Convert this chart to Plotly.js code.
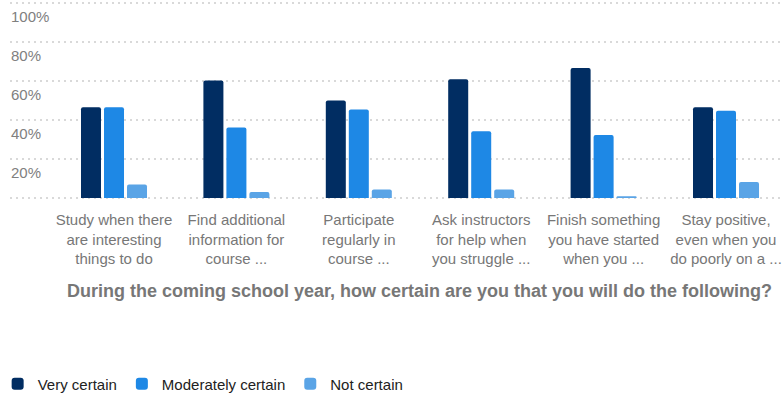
<!DOCTYPE html>
<html>
<head>
<meta charset="utf-8">
<script src="https://cdn.plot.ly/plotly-3.0.1.min.js"></script>
<style>
html,body{margin:0;padding:0;background:#fff;}
#chart{width:782px;height:398px;}
</style>
</head>
<body>
<div id="chart"></div>
<script>
const categories = [
  "Study when there<br>are interesting<br>things to do",
  "Find additional<br>information for<br>course ...",
  "Participate<br>regularly in<br>course ...",
  "Ask instructors<br>for help when<br>you struggle ...",
  "Finish something<br>you have started<br>when you ...",
  "Stay positive,<br>even when you<br>do poorly on a ..."
];
const seriesNames = ["Very certain", "Moderately certain", "Not certain"];
const veryCertain = [46.6, 60.2, 50.0, 60.9, 66.7, 46.6];
const moderatelyCertain = [46.6, 36.2, 45.4, 34.2, 32.3, 44.7];
const notCertain = [7.0, 3.1, 4.4, 4.4, 0.9, 8.2];
const yTickVals = [0, 20, 40, 60, 80, 100];
const yTickText = ["", "20%", "40%", "60%", "80%", "100%"];
const axisTitle = "During the coming school year, how certain are you that you will do the following?";

const colors = ["#012d62", "#1e88e5", "#5aa4e6"];
const seriesValues = [veryCertain, moderatelyCertain, notCertain];
const FONT = "Liberation Sans, Arial, sans-serif";

const traces = seriesValues.map((vals, i) => ({
  type: "bar",
  name: seriesNames[i],
  x: categories.map((c, k) => k),
  y: vals,
  marker: {color: colors[i], line: {width: 0}},
  hoverinfo: "none"
}));

const layout = {
  width: 782,
  height: 398,
  margin: {l: 10, r: 0, t: 1, b: 198, pad: 0, autoexpand: false},
  paper_bgcolor: "#ffffff",
  plot_bgcolor: "#ffffff",
  font: {family: FONT, size: 15, color: "#777777"},
  barmode: "group",
  bargap: 0.4363,
  bargroupgap: 0.13,
  barcornerradius: 2,
  showlegend: true,
  legend: {
    orientation: "h",
    x: -0.016, xanchor: "left",
    y: -0.9246, yanchor: "middle",
    font: {family: FONT, size: 15, color: "#222222"},
    bgcolor: "rgba(0,0,0,0)",
    itemclick: false, itemdoubleclick: false
  },
  xaxis: {
    type: "linear",
    range: [-0.8497, 5.4575],
    tickmode: "array",
    tickvals: categories.map((c, k) => k),
    ticktext: categories,
    ticks: "",
    showgrid: false,
    zeroline: false,
    showline: false,
    tickfont: {family: FONT, size: 15, color: "#777777"},
    ticklabelstandoff: 9,
    fixedrange: true
  },
  yaxis: {
    range: [-1, 101],
    tickmode: "array",
    tickvals: yTickVals,
    ticktext: yTickText,
    ticklabelposition: "inside",
    ticklabelshift: 14,
    ticklabelstandoff: -2,
    ticks: "",
    showgrid: true,
    gridcolor: "#d9d9d9",
    gridwidth: 2,
    griddash: "2px,4px",
    zeroline: false,
    showline: false,
    tickfont: {family: FONT, size: 15, color: "#808080"},
    fixedrange: true
  },
  annotations: [{
    text: "<b>" + axisTitle + "</b>",
    xref: "paper", yref: "paper",
    x: 0.5298, y: -0.457,
    xanchor: "center", yanchor: "middle",
    showarrow: false,
    font: {family: FONT, size: 18, color: "#777777"}
  }]
};

Plotly.newPlot("chart", traces, layout, {displayModeBar: false, staticPlot: true});
</script>
</body>
</html>
